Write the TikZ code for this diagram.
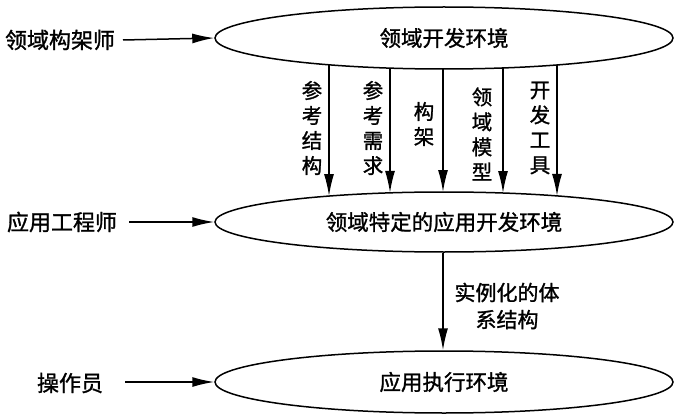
\documentclass[tikz,border=0pt]{standalone}
\usepackage{fontspec}
\newfontfamily\cjk[FakeBold=1.2]{Noto Sans CJK SC}
\usetikzlibrary{shapes.geometric,arrows.meta,calc}
\begin{document}
\begin{tikzpicture}[x=1pt,y=-1pt,
  line width=1.5pt,
  env/.style={draw,ellipse,minimum width=458pt,minimum height=62pt,inner sep=0pt,font=\cjk\fontsize{21.5}{24}\selectfont},
  lbl/.style={inner sep=0pt,font=\cjk\fontsize{22}{24}\selectfont},
  vlbl/.style={inner sep=0pt,align=center,font=\cjk\fontsize{20.5}{25}\selectfont},
  arr/.style={-{Latex[length=22pt,width=10pt]}}
]
\useasboundingbox (0,0) rectangle (677,417);
\node[env] (e1) at (444,38) {领域开发环境};
\node[env,minimum height=60pt] (e2) at (444,222) {领域特定的应用开发环境};
\node[env] (e3) at (444,382) {应用执行环境};

\node[lbl] (p1) at (60,40) {领域构架师};
\node[lbl] (p2) at (62,222) {应用工程师};
\node[lbl] (p3) at (70,383) {操作员};
\coordinate (s1) at (123,40);
\coordinate (s2) at (129,222);
\coordinate (s3) at (125,382);
\draw[arr] (s1) -- (e1.west);
\draw[arr] (s2) -- (e2.west);
\draw[arr] (s3) -- (e3.west);

\foreach \dx/\lx/\ly/\txt in {-115/312/128/{参\\考\\结\\构},-54/373/128/{参\\考\\需\\求},-1/424/124/{构\\架},59/482/134/{领\\域\\模\\型},113/540/128/{开\\发\\工\\具}} {
  \draw[arr] ($(e1.center)+(\dx,{31*sqrt(1-(\dx/229)^2)})$) -- ($(e2.center)+(\dx,{-30*sqrt(1-(\dx/229)^2)})$);
  \node[vlbl] at (\lx,\ly) {\txt};
}

\draw[arr] (e2.south -| 443,0) -- (e3.north -| 443,0);
\node[vlbl,font=\cjk\fontsize{21}{27}\selectfont] (inst) at (507,306) {实例化的体\\系结构};
\end{tikzpicture}
\end{document}
